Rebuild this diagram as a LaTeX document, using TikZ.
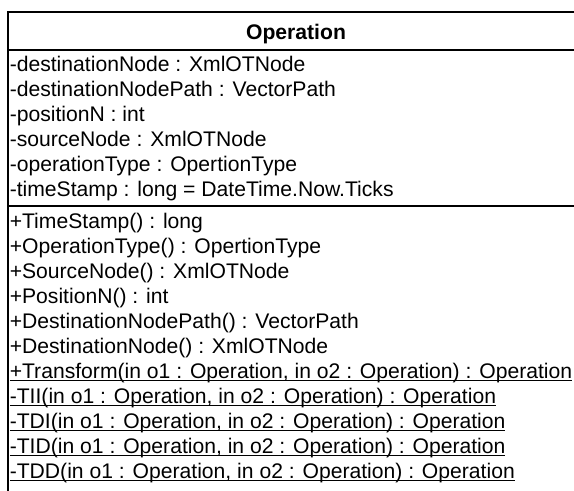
\documentclass[tikz,border=0pt]{standalone}
\usepackage{fontspec}
\setmainfont{Liberation Sans}
\newcommand\myul[1]{\setbox0\hbox{#1}\rlap{\rule[-2.6pt]{\wd0}{1pt}}\box0}
\begin{document}
\begin{tikzpicture}[x=0.75pt,y=-0.75pt,
  boxline/.style={line width=1.5pt,black},
  member/.style={anchor=base west,inner sep=0pt,font=\fontsize{15.85pt}{19pt}\selectfont},
  title/.style={anchor=base,inner sep=0pt,font=\fontsize{15.85pt}{19pt}\selectfont\bfseries}]
\useasboundingbox (0,0) rectangle (574,490);
\fill[white] (0,0) rectangle (574,490);
% box frame (cropped at right and bottom)
\draw[boxline] (586,12) -- (8,12) -- (8,492);
\draw[boxline] (8,50) -- (586,50);
\draw[boxline] (8,206) -- (586,206);
% title
\node[title] (title) at (296,39) {Operation};
% attributes
\node[member] (a1) at (9.5,71) {-destinationNode : XmlOTNode};
\node[member] (a2) at (9.5,96) {-destinationNodePath : VectorPath};
\node[member] (a3) at (9.5,121) {-positionN : int};
\node[member] (a4) at (9.5,146) {-sourceNode : XmlOTNode};
\node[member] (a5) at (9.5,171) {-operationType : OpertionType};
\node[member] (a6) at (9.5,196) {-timeStamp : long = DateTime.Now.Ticks};
% methods
\node[member] (m1) at (9.5,228) {+TimeStamp() : long};
\node[member] (m2) at (9.5,253) {+OperationType() : OpertionType};
\node[member] (m3) at (9.5,278) {+SourceNode() : XmlOTNode};
\node[member] (m4) at (9.5,303) {+PositionN() : int};
\node[member] (m5) at (9.5,328) {+DestinationNodePath() : VectorPath};
\node[member] (m6) at (9.5,353) {+DestinationNode() : XmlOTNode};
\node[member] (m7) at (9.5,378) {\myul{+Transform(in o1 : Operation, in o2 : Operation) : Operation}};
\node[member] (m8) at (9.5,403) {\myul{-TII(in o1 : Operation, in o2 : Operation) : Operation}};
\node[member] (m9) at (9.5,428) {\myul{-TDI(in o1 : Operation, in o2 : Operation) : Operation}};
\node[member] (m10) at (9.5,453) {\myul{-TID(in o1 : Operation, in o2 : Operation) : Operation}};
\node[member] (m11) at (9.5,478) {\myul{-TDD(in o1 : Operation, in o2 : Operation) : Operation}};
\end{tikzpicture}
\end{document}
